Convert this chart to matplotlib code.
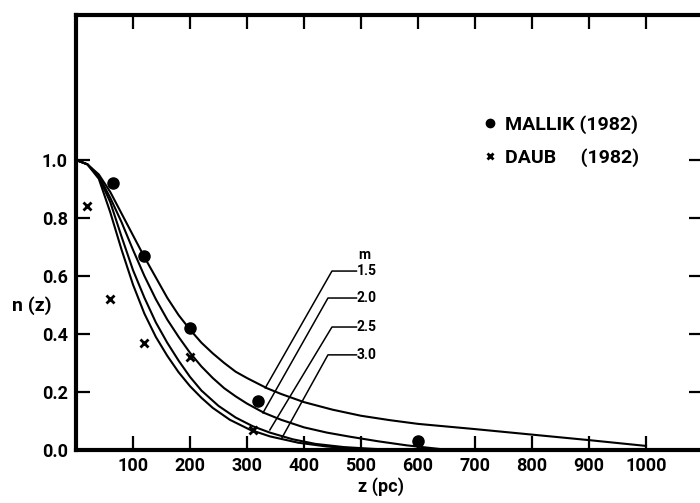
import matplotlib
matplotlib.use('Agg')
import matplotlib.pyplot as plt

plt.rcParams['font.family'] = ['Roboto', 'DejaVu Sans']
plt.rcParams['font.weight'] = 'bold'

# model curves n(z)
z_15 = [0, 20, 40, 60, 80, 100, 120, 140, 160, 180, 200, 220, 240, 260, 280, 300,
        335, 360, 400, 450, 500, 550, 600, 650, 700, 800, 900, 1000]
n_15 = [1.0, 0.985, 0.95, 0.89, 0.815, 0.74, 0.665, 0.595, 0.525, 0.465, 0.415, 0.37,
        0.333, 0.30, 0.27, 0.248, 0.213, 0.193, 0.165, 0.139, 0.118, 0.103, 0.09,
        0.081, 0.072, 0.053, 0.034, 0.014]

z_20 = [0, 20, 40, 60, 80, 100, 120, 140, 160, 180, 200, 220, 240, 260, 280, 300,
        330, 360, 400, 440, 480, 530, 580, 640]
n_20 = [1.0, 0.985, 0.945, 0.87, 0.785, 0.69, 0.60, 0.52, 0.45, 0.39, 0.335, 0.288,
        0.248, 0.213, 0.185, 0.16, 0.128, 0.104, 0.078, 0.06, 0.046, 0.03, 0.016, 0.003]

z_25 = [0, 20, 40, 60, 80, 100, 120, 140, 160, 180, 200, 220, 250, 280, 310, 340,
        380, 420, 470, 520, 560]
n_25 = [1.0, 0.985, 0.94, 0.855, 0.735, 0.62, 0.525, 0.44, 0.37, 0.308, 0.252, 0.205,
        0.152, 0.112, 0.082, 0.06, 0.037, 0.021, 0.01, 0.004, 0.0]

z_30 = [0, 20, 40, 60, 80, 100, 120, 140, 160, 180, 200, 220, 240, 270, 305, 340,
        390, 440, 490, 540]
n_30 = [1.0, 0.985, 0.935, 0.82, 0.69, 0.57, 0.47, 0.39, 0.325, 0.268, 0.22, 0.18,
        0.145, 0.104, 0.07, 0.047, 0.025, 0.012, 0.004, 0.0]

# observations
mallik_z = [65, 120, 200, 320, 600]
mallik_n = [0.92, 0.67, 0.42, 0.17, 0.03]
daub_z = [20, 60, 120, 200, 310]
daub_n = [0.84, 0.52, 0.37, 0.32, 0.07]

# curve labels (m) and their leader lines
m_labels = ['1.5', '2.0', '2.5', '3.0']
tip_z = [332, 328, 340, 361]
tip_n = [0.214, 0.128, 0.069, 0.041]
elbow_z = [449, 442, 449, 442]
label_z = [492, 492, 492, 492]
label_n = [0.617, 0.524, 0.424, 0.328]

xticks = [100, 200, 300, 400, 500, 600, 700, 800, 900, 1000]
yticks = [0.0, 0.2, 0.4, 0.6, 0.8, 1.0]

fig = plt.figure(figsize=(7, 5.03), dpi=100)
ax = fig.add_axes([0.1086, 0.1054, 0.8957, 0.8648])

for z, n in [(z_15, n_15), (z_20, n_20), (z_25, n_25), (z_30, n_30)]:
    ax.plot(z, n, color='black', lw=1.5, solid_joinstyle='round')

ax.plot(mallik_z, mallik_n, 'o', color='black', ms=8, label='MALLIK (1982)')
ax.plot(daub_z, daub_n, 'x', color='black', ms=6, mew=2, label='DAUB     (1982)')

for lab, tz, tn, ez, lz, ln in zip(m_labels, tip_z, tip_n, elbow_z, label_z, label_n):
    ax.plot([tz, ez, lz], [tn, ln, ln], color='black', lw=1.1)
    ax.text(lz, ln, lab, fontsize=10, fontweight='bold', va='center', ha='left')
ax.text(label_z[0] + 14, label_n[0] + 0.055, 'm', fontsize=10, fontweight='bold',
        va='center', ha='center')

ax.set_xlim(0, 1100)
ax.set_ylim(0, 1.5)
ax.set_xticks(xticks)
ax.set_yticks(yticks)
ax.set_yticklabels(['%.1f' % v for v in yticks])

for s in ax.spines.values():
    s.set_linewidth(3)

ax.tick_params(direction='in', length=10, width=1.6, top=True, right=True,
               labelsize=13)
ax.tick_params(axis='y', pad=6)
ax.tick_params(axis='x', pad=5)

ax.set_xlabel('z (pc)', fontsize=13, fontweight='bold')
ax.xaxis.set_label_coords(0.486, -0.062)
ax.set_ylabel('n (z)', fontsize=14, fontweight='bold', rotation=0, va='center')
ax.yaxis.set_label_coords(-0.07, 0.333)

ax.legend(loc='upper left', bbox_to_anchor=(0.635, 0.792), frameon=False,
          handlelength=0.6, handletextpad=0.5, borderpad=0, labelspacing=0.75,
          markerscale=0.75, prop={'size': 14, 'weight': 'bold'})

fig.savefig('out.png', dpi=100)
